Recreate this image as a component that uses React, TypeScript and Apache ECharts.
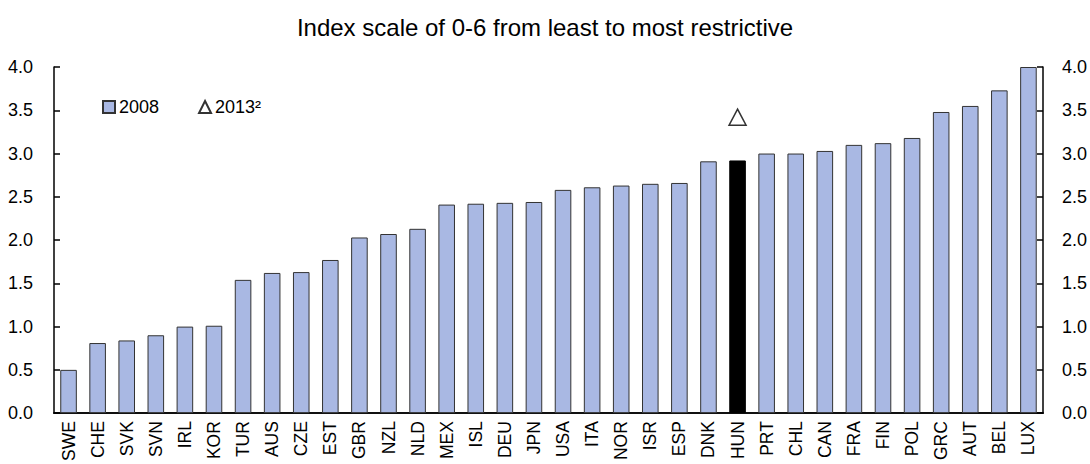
import React, { useEffect, useRef } from "react";
import * as echarts from "echarts";

const countries = ["SWE","CHE","SVK","SVN","IRL","KOR","TUR","AUS","CZE","EST","GBR","NZL","NLD","MEX","ISL","DEU","JPN","USA","ITA","NOR","ISR","ESP","DNK","HUN","PRT","CHL","CAN","FRA","FIN","POL","GRC","AUT","BEL","LUX"];
const values2008 = [0.50,0.81,0.84,0.90,1.00,1.01,1.54,1.62,1.63,1.77,2.03,2.07,2.13,2.41,2.42,2.43,2.44,2.58,2.61,2.63,2.65,2.66,2.91,2.92,3.00,3.00,3.03,3.10,3.12,3.18,3.48,3.55,3.73,4.00];
const values2013: (number | null)[] = countries.map((c) => (c === "HUN" ? 3.42 : null));
const highlight = "HUN";
const yTicks = [0, 0.5, 1, 1.5, 2, 2.5, 3, 3.5, 4];
const titleText = "Index scale of 0-6 from least to most restrictive";

const FONT = "'Liberation Sans', Arial, sans-serif";

export default function App() {
  const ref = useRef<HTMLDivElement>(null);
  useEffect(() => {
    if (!ref.current) return;
    const chart = echarts.init(ref.current, undefined, { renderer: "svg" });
    const yAxisCommon = {
      type: "value" as const,
      min: yTicks[0],
      max: yTicks[yTicks.length - 1],
      interval: 0.5,
      axisLine: { show: true, lineStyle: { color: "#000", width: 1.5 } },
      axisTick: { show: true, inside: true, length: 6, lineStyle: { color: "#000", width: 1.5 } },
      splitLine: { show: false },
      axisLabel: {
        color: "#000",
        fontSize: 18,
        fontFamily: FONT,
        margin: 19,
        formatter: (v: number) => v.toFixed(1),
      },
    };
    const xLabel = {
      interval: 0,
      rotate: 90,
      color: "#000",
      fontSize: 17.5,
      fontFamily: FONT,
      margin: 8,
    };
    chart.setOption({
      animation: false,
      backgroundColor: "#fff",
      title: {
        text: titleText,
        left: "center",
        top: 10,
        textStyle: { color: "#000", fontSize: 24, fontWeight: "normal", fontFamily: FONT },
      },
      legend: {
        left: 97,
        top: 93,
        itemWidth: 12,
        itemHeight: 12,
        itemGap: 39,
        textStyle: { color: "#000", fontSize: 18, fontFamily: FONT, padding: [0, 0, 0, -1] },
        data: [
          { name: "2008", icon: "rect" },
          { name: "2013²", icon: "triangle" },
        ],
      },
      grid: { left: 54, right: 46, top: 67, bottom: 43, containLabel: false },
      xAxis: [
        {
          type: "category",
          data: countries,
          axisLine: { show: true, lineStyle: { color: "#000", width: 1.5 } },
          axisTick: { show: false },
          axisLabel: xLabel,
        },
        {
          type: "category",
          data: countries,
          position: "top",
          axisLine: { show: true, lineStyle: { color: "#000", width: 1.5 } },
          axisTick: { show: false },
          axisLabel: { show: false },
        },
      ],
      yAxis: [
        { ...yAxisCommon, position: "left", axisLabel: { ...yAxisCommon.axisLabel, margin: 21 } },
        { ...yAxisCommon, position: "right" },
      ],
      series: [
        {
          name: "2008",
          type: "bar",
          barWidth: "57%",
          data: countries.map((c, i) => ({
            value: values2008[i],
            itemStyle: c === highlight ? { color: "#000", borderColor: "#000" } : undefined,
          })),
          itemStyle: { color: "#A9B8E3", borderColor: "#333", borderWidth: 1 },
        },
        {
          name: "2013²",
          type: "scatter",
          symbol: "triangle",
          symbolSize: [17, 16],
          data: values2013,
          itemStyle: { color: "#fff", borderColor: "#000", borderWidth: 1.5 },
          z: 5,
        },
      ],
    });
    return () => chart.dispose();
  }, []);
  return <div ref={ref} style={{ width: 1090, height: 464, position: "absolute", left: 0, top: 0 }} />;
}
